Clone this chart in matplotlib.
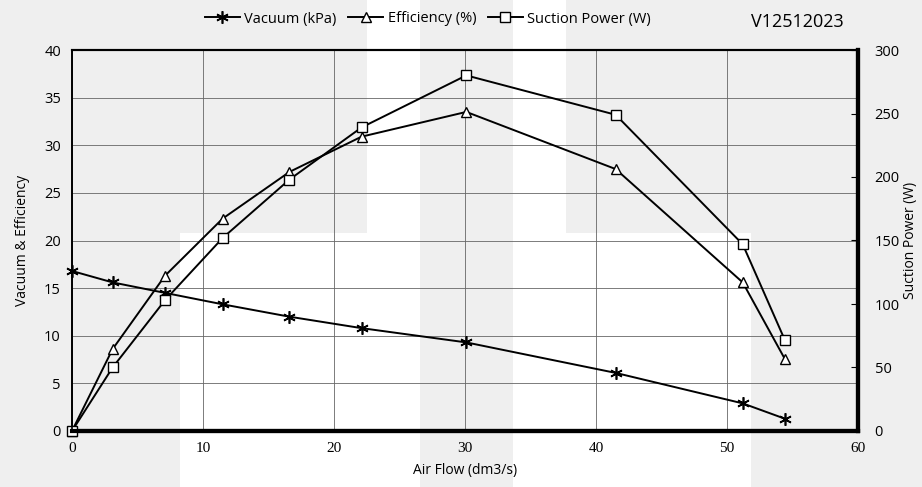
import matplotlib.pyplot as plt
from matplotlib.patches import Rectangle

# data
air_flow = [0, 3.1, 7.1, 11.5, 16.6, 22.1, 30.1, 41.5, 51.2, 54.4]
vacuum = [16.8, 15.6, 14.5, 13.3, 12.0, 10.8, 9.3, 6.1, 2.9, 1.3]
efficiency = [0, 8.6, 16.3, 22.3, 27.2, 30.9, 33.5, 27.5, 15.6, 7.6]
suction_power = [0, 50, 103, 152, 198, 239, 280, 249, 147, 72]
model = "V12512023"

W, H = 922, 487
fig = plt.figure(figsize=(W / 100, H / 100), dpi=100)
fig.patch.set_facecolor("white")

# faint watermark blocks behind the chart (pixel rects: x0, x1, y_top[, y_bottom])
gray = "#efefef"
blocks = [(0, 180, 0), (180, 367, 0, 233), (420, 513, 0), (566, 751, 0, 233), (751, W, 0)]
for b in blocks:
    x0, x1 = b[0], b[1]
    ytop = b[2]
    ybot = b[3] if len(b) > 3 else H
    fig.patches.append(Rectangle((x0 / W, 1 - ybot / H), (x1 - x0) / W, (ybot - ytop) / H,
                                 transform=fig.transFigure, facecolor=gray,
                                 edgecolor="none", zorder=-10))

ax = fig.add_axes([72 / W, 1 - 431 / H, (858 - 72) / W, (431 - 50) / H])
ax.set_facecolor("none")
ax2 = ax.twinx()

star = (6, 2, 0)
l1, = ax.plot(air_flow, vacuum, color="black", lw=1.4, marker=star, ms=9, mew=1.2,
              label="Vacuum (kPa)", clip_on=False)
l2, = ax.plot(air_flow, efficiency, color="black", lw=1.4, marker="^", ms=7.5, mew=1.0,
              mfc="white", label="Efficiency (%)", clip_on=False)
l3, = ax2.plot(air_flow, suction_power, color="black", lw=1.4, marker="s", ms=7, mew=1.0,
               mfc="white", label="Suction Power (W)", clip_on=False)

ax.set_xlim(0, 60)
ax.set_ylim(0, 40)
ax2.set_ylim(0, 300)
ax.set_xticks(range(0, 61, 10))
ax.set_yticks(range(0, 41, 5))
ax2.set_yticks(range(0, 301, 50))

ax.grid(True, color="#666666", lw=0.6)
ax.set_axisbelow(True)

for a in (ax, ax2):
    a.spines["left"].set_linewidth(1.2)
    a.spines["top"].set_linewidth(1.5)
    a.spines["bottom"].set_linewidth(3)
    a.spines["right"].set_linewidth(3)

sans = "Open Sans"
ax.tick_params(axis="y", length=0, labelsize=10.5, pad=8)
ax.tick_params(axis="x", length=0, labelsize=11, pad=8)
ax2.tick_params(axis="y", direction="in", length=5, width=0.8, labelsize=10.5, pad=12)
for lbl in ax.get_yticklabels() + ax2.get_yticklabels():
    lbl.set_fontfamily(sans)
for lbl in ax.get_xticklabels():
    lbl.set_fontfamily("Liberation Serif")

ax.set_xlabel("Air Flow (dm3/s)", fontfamily=sans, fontsize=10, labelpad=6)
ax.set_ylabel("Vacuum & Efficiency", fontfamily=sans, fontsize=10, labelpad=10)
ax2.set_ylabel("Suction Power (W)", fontfamily=sans, fontsize=10, labelpad=2)

fig.legend(handles=[l1, l2, l3], loc="center", bbox_to_anchor=(428 / W, 1 - 19 / H),
           ncol=3, frameon=False, prop={"family": sans, "size": 10.5},
           handlelength=2.4, columnspacing=0.8, handletextpad=0.3)
fig.text(797 / W, 1 - 22 / H, model, ha="center", va="center", fontfamily=sans, fontsize=13)

fig.savefig("out.png", dpi=100)
